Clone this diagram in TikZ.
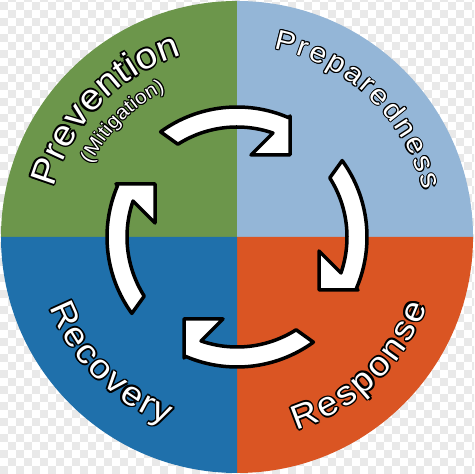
\documentclass[tikz,border=0pt]{standalone}
\usepackage{fontspec}
\newfontfamily\ringfont[FakeStretch=1.08]{Liberation Sans}
\usetikzlibrary{decorations.text}

\definecolor{prevgreen}{HTML}{6C964B}
\definecolor{prepblue}{HTML}{94B6D7}
\definecolor{recoblue}{HTML}{1F70AB}
\definecolor{respred}{HTML}{DA5523}
\definecolor{checkgray}{HTML}{E9E9E9}

\newcommand{\prevfont}{\ringfont\fontsize{18pt}{20pt}\selectfont}
\newcommand{\mitifont}{\ringfont\fontsize{9.8pt}{11pt}\selectfont}
\newcommand{\prepfont}{\ringfont\fontsize{14pt}{16pt}\selectfont}
\newcommand{\recofont}{\ringfont\fontsize{17pt}{19pt}\selectfont}

\tikzset{
  cyclearrow/.style={fill=white, draw=black, line width=1.75pt, line join=round},
}

% radius, from angle, to angle, font, outline, text
\newcommand{\ringlabel}[6]{%
  \foreach \a in {0,45,...,315}
    \path[shift={(\a:#5)}, decorate, decoration={text along path, text color=black,
      text align={fit to path}, text={|#4|#6}}]
      (#2:#1) arc[start angle=#2, end angle=#3, radius=#1];
  \path[decorate, decoration={text along path, text color=white,
      text align={fit to path}, text={|#4|#6}}]
      (#2:#1) arc[start angle=#2, end angle=#3, radius=#1];
}

\begin{document}
\begin{tikzpicture}[x=0.5pt, y=0.5pt]
	\useasboundingbox (-237,-237) rectangle (237,237);

	% checkered backdrop
	\begin{scope}
	\clip (-237,-237) rectangle (237,237);
	\fill[white] (-237,-237) rectangle (237,237);
	\foreach \i in {0,...,29}
		\foreach \j in {0,...,29} {
			\fill[checkgray] (-237+16*\i,-237+16*\j) rectangle +(8,8);
			\fill[checkgray] (-229+16*\i,-229+16*\j) rectangle +(8,8);
		}
	\end{scope}

	% quadrants
	\fill[prevgreen] (0,0) -- (180:236) arc[start angle=180, end angle=90, radius=236] -- cycle;
	\fill[prepblue]  (0,0) -- (90:236)  arc[start angle=90,  end angle=0,  radius=236] -- cycle;
	\fill[respred]   (0,0) -- (0:236)   arc[start angle=0,   end angle=-90, radius=236] -- cycle;
	\fill[recoblue]  (0,0) -- (270:236) arc[start angle=270, end angle=180, radius=236] -- cycle;

	% cycle arrows
	\foreach \r in {0,90,180,270}
		\filldraw[cyclearrow, rotate=-\r] (126:130) arc[start angle=126, end angle=66.71, radius=130]
			-- (53,121) -- (53,82) -- (14,82)
			-- (70.92:110) arc[start angle=70.92, end angle=122.5, radius=110] -- cycle;

	% labels
	\ringlabel{190}{165}{107}{\prevfont}{1.8}{Prevention}
	\ringlabel{163}{153.5}{116}{\mitifont}{1.1}{(Mitigation)}
	\ringlabel{192}{79}{14}{\prepfont}{1.1}{Preparedness}
	\ringlabel{200}{200.5}{249.5}{\recofont}{1.6}{Recovery}
	\ringlabel{202}{287}{340}{\recofont}{1.6}{Response}
\end{tikzpicture}
\end{document}
